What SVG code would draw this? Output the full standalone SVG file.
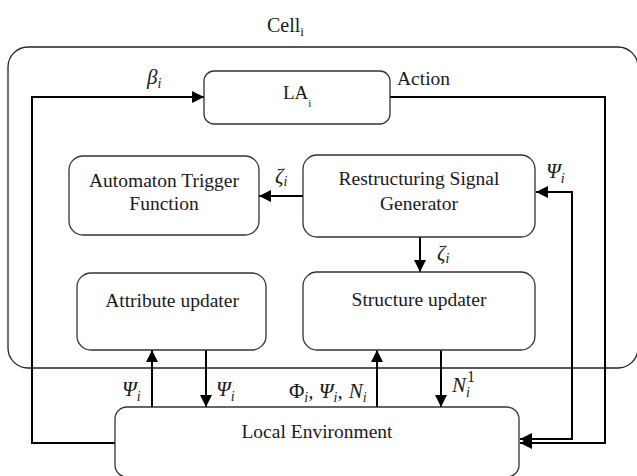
<svg xmlns="http://www.w3.org/2000/svg" width="637" height="476" viewBox="0 0 637 476">
<defs>
<marker id="ah" markerUnits="userSpaceOnUse" markerWidth="12" markerHeight="12" refX="12" refY="6" orient="auto-start-reverse" viewBox="0 0 12 12">
<path d="M0,0 L12,6 L0,12 z" fill="#000"/>
</marker>
<style>
.box{fill:#fff;stroke:#333;stroke-width:1.3}
.cell{fill:none;stroke:#222;stroke-width:1.3}
.t{font-family:"Liberation Serif","Times New Roman",serif;font-size:19.5px;fill:#1a1a1a}
.m{font-family:"Liberation Serif","Times New Roman",serif;font-size:21px;font-style:italic;fill:#1a1a1a}
.sub{font-size:14px}
.c{fill:none;stroke:#000;stroke-width:2}
.a{marker-end:url(#ah)}
</style>
</defs>
<rect class="cell" x="8" y="47" width="630" height="321" rx="20"/>
<text class="t" x="267" y="32" style="font-size:20px">Cell<tspan style="font-size:13px" dy="4">i</tspan></text>
<g id="connectors">
<polyline class="c a" points="115,443 32,443 32,97 204,97"/>
<polyline class="c a" points="390,97 605,97 605,443 520,443"/>
<polyline class="c a" points="520,439 572,439 572,192 536,192" style="marker-start:url(#ah)"/>
<line class="c a" x1="303" y1="196" x2="259" y2="196"/>
<line class="c a" x1="420" y1="237" x2="420" y2="272"/>
<line class="c a" x1="152" y1="407" x2="152" y2="350"/>
<line class="c a" x1="206" y1="350" x2="206" y2="407"/>
<line class="c a" x1="377" y1="407" x2="377" y2="350"/>
<line class="c a" x1="441" y1="350" x2="441" y2="407"/>
<text class="m" x="147" y="84">β<tspan class="sub" dy="4">i</tspan></text>
<text class="t" x="397" y="85">Action</text>
<text class="m" x="275" y="183">ζ<tspan class="sub" dy="3">i</tspan></text>
<text class="m" x="437" y="260">ζ<tspan class="sub" dy="3">i</tspan></text>
<text class="m" x="546" y="178">Ψ<tspan class="sub" dy="5">i</tspan></text>
<text class="m" x="122" y="396">Ψ<tspan class="sub" dy="5">i</tspan></text>
<text class="m" x="216" y="396">Ψ<tspan class="sub" dy="5">i</tspan></text>
<text class="m" x="289" y="398"><tspan font-style="normal">Φ</tspan><tspan class="sub" dy="4">i</tspan><tspan dy="-4">, Ψ</tspan><tspan class="sub" dy="4">i</tspan><tspan dy="-4">,</tspan><tspan dx="6">N</tspan><tspan class="sub" dy="4">i</tspan></text>
<text class="m" x="452" y="392">N<tspan class="sub" dy="5">i</tspan><tspan dx="-3" dy="-15" font-style="normal" style="font-size:16px">1</tspan></text>
</g>
<g id="la">
<rect class="box" x="204" y="71" width="186" height="53" rx="10"/>
<text class="t" x="283" y="99" style="font-size:19px">LA<tspan style="font-size:11px" dy="8">i</tspan></text>
</g>
<g id="atf">
<rect class="box" x="69" y="156" width="190" height="79" rx="14"/>
<text class="t" x="164" y="187" text-anchor="middle">Automaton Trigger</text>
<text class="t" x="164" y="210" text-anchor="middle">Function</text>
</g>
<g id="rsg">
<rect class="box" x="303" y="155" width="232" height="82" rx="14"/>
<text class="t" x="419" y="185" text-anchor="middle">Restructuring Signal</text>
<text class="t" x="419" y="210" text-anchor="middle">Generator</text>
</g>
<g id="au">
<rect class="box" x="77" y="273" width="189" height="77" rx="14"/>
<text class="t" x="172" y="307" text-anchor="middle">Attribute updater</text>
</g>
<g id="su">
<rect class="box" x="303" y="272" width="232" height="78" rx="14"/>
<text class="t" x="419" y="306" text-anchor="middle">Structure updater</text>
</g>
<g id="le">
<rect class="box" x="115" y="407" width="404" height="70" rx="12"/>
<text class="t" x="317" y="438" text-anchor="middle">Local Environment</text>
</g>
</svg>
